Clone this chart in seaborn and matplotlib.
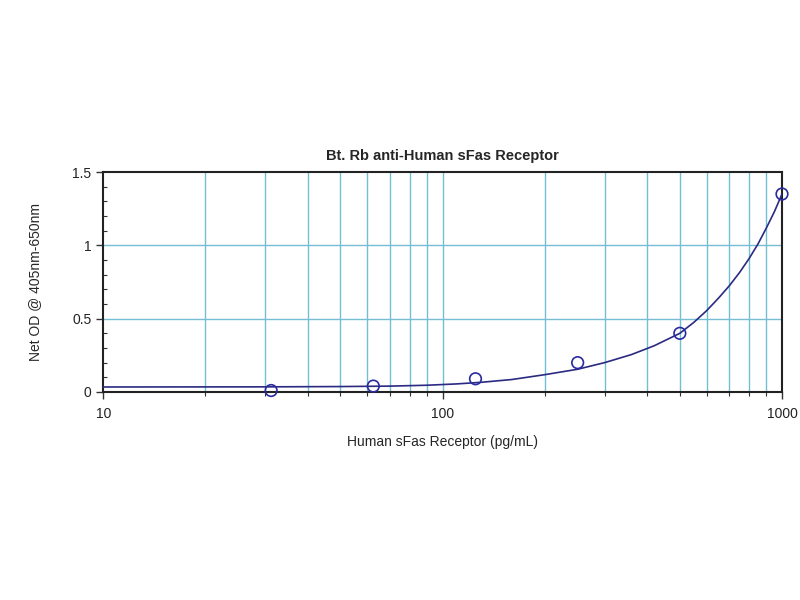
import matplotlib
matplotlib.use('Agg')
import matplotlib.pyplot as plt
from matplotlib.ticker import LogLocator, FixedLocator, MultipleLocator
import pandas as pd
import seaborn as sns

# standards (pg/mL) and measured OD
conc = [31.25, 62.5, 125, 250, 500, 1000]
od = [0.01, 0.04, 0.09, 0.20, 0.40, 1.35]

# fitted curve
fit_x = [10, 30, 50, 70, 90, 110, 130, 160, 200, 250, 300, 360, 420, 500,
         550, 600, 650, 700, 750, 800, 850, 900, 950, 1000]
fit_y = [0.034, 0.035, 0.037, 0.040, 0.046, 0.055, 0.066, 0.085, 0.118, 0.155,
         0.20, 0.255, 0.315, 0.40, 0.475, 0.555, 0.64, 0.725, 0.815, 0.91,
         1.01, 1.12, 1.23, 1.35]

df_pts = pd.DataFrame({'conc': conc, 'od': od})
df_fit = pd.DataFrame({'x': fit_x, 'y': fit_y})

sns.set_style('white')
plt.rcParams['font.family'] = ['Liberation Sans', 'DejaVu Sans']

fig = plt.figure(figsize=(8, 6), dpi=100)
ax = fig.add_axes([0.129, 0.3467, 0.8485, 0.3666])

grid_col = '#74bdd2'
ax.set_xscale('log')
ax.set_xlim(10, 1000)
ax.set_ylim(0, 1.5)

for v in [20, 30, 40, 50, 60, 70, 80, 90, 100, 200, 300, 400, 500, 600, 700, 800, 900]:
    ax.axvline(v, color=grid_col, lw=1, zorder=0)
for v in [0.5, 1.0]:
    ax.axhline(v, color=grid_col, lw=1, zorder=0)

sns.lineplot(data=df_fit, x='x', y='y', ax=ax, color='#2a2a82', lw=1.2, zorder=3)
sns.scatterplot(data=df_pts, x='conc', y='od', ax=ax, marker='o', s=70,
                facecolor='none', edgecolor='#2a2aa0', linewidth=1.2, zorder=4,
                clip_on=False)

ax.xaxis.set_major_locator(FixedLocator([10, 100, 1000]))
ax.set_xticklabels(['10', '100', '1000'])
ax.xaxis.set_minor_locator(LogLocator(base=10, subs=range(2, 10)))
ax.xaxis.set_minor_formatter(plt.NullFormatter())
ax.yaxis.set_major_locator(FixedLocator([0, 0.5, 1, 1.5]))
ax.set_yticklabels(['0', '0.5', '1', '1.5'])
ax.yaxis.set_minor_locator(MultipleLocator(0.1))

ax.tick_params(axis='both', which='both', bottom=True, left=True, top=False, right=False)
ax.tick_params(axis='both', which='major', direction='out', length=5, width=1, labelsize=10,
               color='#333333', labelcolor='#222222')
ax.tick_params(axis='x', which='minor', direction='out', length=3, width=0.8, color='#333333')
ax.tick_params(axis='y', which='minor', direction='in', length=3, width=0.8, color='#333333')
ax.tick_params(axis='x', which='major', pad=6)

for s in ax.spines.values():
    s.set_color('#222222')
    s.set_linewidth(1.5)

ax.set_title('Bt. Rb anti-Human sFas Receptor', fontsize=10.5, fontweight='bold', pad=9)
ax.set_xlabel('Human sFas Receptor (pg/mL)', fontsize=10, labelpad=10)
ax.set_ylabel('Net OD @ 405nm-650nm', fontsize=10, labelpad=22)

fig.savefig('out.png', dpi=100)
